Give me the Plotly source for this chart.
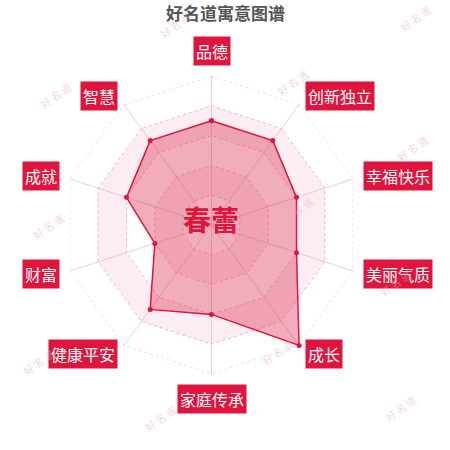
import math
import plotly.graph_objects as go

# 寓意图谱数据
categories = ["品德", "创新独立", "幸福快乐", "美丽气质", "成长",
              "家庭传承", "健康平安", "财富", "成就", "智慧"]
scores = [70, 70, 60, 60, 100, 60, 70, 40, 60, 70]
ring_levels = [20, 40, 60, 80, 100]
name_text = "春蕾"
title_text = "好名道寓意图谱"
watermark_text = "好 名 道"
watermark_spots = [(175, 25), (415, 18), (55, 95), (293, 83), (412, 148),
                   (48, 226), (297, 210), (395, 283), (38, 362), (277, 352),
                   (160, 418), (400, 408)]

RED = "#e0143c"
W = H = 450
CX, CY, R = 211.5, 225, 149

fig = go.Figure()

closed = categories + [categories[0]]

# 交替的网格底色带
for lo, hi in [(20, 40), (60, 80)]:
    fig.add_trace(go.Scatterpolar(
        r=[hi] * 11 + [lo] * 11,
        theta=closed + closed[::-1],
        mode="lines", line=dict(width=0),
        fill="toself", fillcolor="rgba(238,175,192,0.22)",
        hoverinfo="skip", showlegend=False,
    ))

# 最外圈虚线
fig.add_trace(go.Scatterpolar(
    r=[ring_levels[-1]] * 11, theta=closed, mode="lines",
    line=dict(color="rgba(232,180,195,0.9)", width=1, dash="dot"),
    hoverinfo="skip", showlegend=False,
))

# 数据区域
fig.add_trace(go.Scatterpolar(
    r=scores + [scores[0]], theta=closed,
    mode="lines+markers",
    line=dict(color=RED, width=1.5),
    marker=dict(color=RED, size=5),
    fill="toself", fillcolor="rgba(222,40,80,0.38)",
    showlegend=False,
))

fig.update_layout(
    width=W, height=H,
    margin=dict(l=0, r=0, t=0, b=0),
    paper_bgcolor="white",
    plot_bgcolor="white",
    font=dict(family="Noto Sans CJK SC"),
    polar=dict(
        domain=dict(x=[(CX - R) / W, (CX + R) / W],
                    y=[0.5 - R / H, 0.5 + R / H]),
        bgcolor="rgba(0,0,0,0)",
        gridshape="linear",
        radialaxis=dict(range=[0, 100], tickvals=ring_levels[:-1],
                        showticklabels=False, ticks="", showline=False,
                        gridcolor="rgba(232,180,195,0.9)", griddash="dot",
                        gridwidth=1),
        angularaxis=dict(rotation=90, direction="clockwise",
                         categoryorder="array", categoryarray=categories,
                         showticklabels=False, ticks="", showline=False,
                         gridcolor="rgba(236,200,210,0.9)", gridwidth=1.2),
    ),
)

annotations = []
# 维度标签
for i, cat in enumerate(categories):
    ang = math.radians(90 - 36 * i)
    c, s = math.cos(ang), math.sin(ang)
    px_ = CX + (R + 10) * c
    py_ = CY - (R + 10) * s
    if abs(c) < 0.1:
        xa, ya = "center", ("bottom" if s > 0 else "top")
    else:
        xa, ya = ("left" if c > 0 else "right"), "middle"
    annotations.append(dict(
        x=px_ / W, y=1 - py_ / H, xref="paper", yref="paper",
        text=cat, showarrow=False, xanchor=xa, yanchor=ya,
        bgcolor=RED, borderpad=2,
        font=dict(size=16, color="white", family="Noto Sans CJK SC"),
    ))

# 中心名字
annotations.append(dict(
    x=(CX - 1) / W, y=1 - 219 / H, xref="paper", yref="paper",
    xanchor="center", yanchor="middle",
    text="<b>" + name_text + "</b>", showarrow=False,
    font=dict(size=28, color=RED, family="Noto Sans CJK SC"),
))

# 标题
annotations.append(dict(
    x=0.5, y=1 - 13 / H, xref="paper", yref="paper",
    xanchor="center", yanchor="middle",
    text="<b>" + title_text + "</b>", showarrow=False,
    font=dict(size=17, color="#555555", family="Noto Sans CJK SC"),
))

# 水印
for wx, wy in watermark_spots:
    annotations.append(dict(
        x=wx / W, y=1 - wy / H, xref="paper", yref="paper",
        xanchor="center", yanchor="middle",
        text=watermark_text, showarrow=False, textangle=-35,
        font=dict(size=10, color="rgba(232,170,188,0.5)",
                  family="Noto Sans CJK SC"),
    ))

fig.update_layout(annotations=annotations)

# 去掉页面默认边距，让图贴齐窗口左上角
fig.write_html("out.html", config={"displayModeBar": False},
               post_script="document.body.style.margin='0';")
